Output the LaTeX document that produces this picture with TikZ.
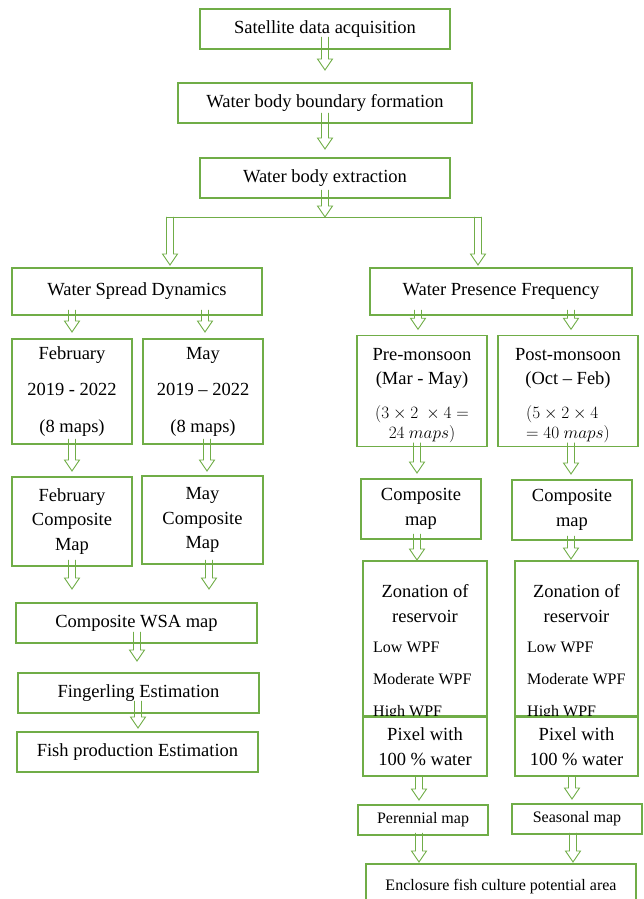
\documentclass[tikz,border=0pt]{standalone}
\usepackage{fontspec}
\setmainfont{Liberation Serif}
\usetikzlibrary{calc}
\definecolor{flowgreen}{RGB}{112,173,71}
\newcommand{\boxfont}{\fontsize{18.5}{24.5}\selectfont}
\newcommand{\itemfont}{\fontsize{16}{20}\selectfont}
\newcommand{\calcfont}{\fontsize{17}{20}\selectfont}
\newcommand{\flowdown}[3]{%
  \draw[flowline] let \p1=(#2), \p2=(#3) in
    (#1pt-3.5pt,\y1) -- (#1pt-3.5pt,\y2+11pt) -- (#1pt-7.5pt,\y2+11pt) -- (#1pt,\y2)
    -- (#1pt+7.5pt,\y2+11pt) -- (#1pt+3.5pt,\y2+11pt) -- (#1pt+3.5pt,\y1);}

\begin{document}
\begin{tikzpicture}[x=1pt, y=1pt, every node/.style={font=\boxfont},
    box/.style={draw=flowgreen, line width=1.2pt, fill=white, align=center, inner sep=2pt, outer sep=0pt},
    flowline/.style={draw=flowgreen, line width=0.9pt, line join=miter}]
    \useasboundingbox (0,0) rectangle (643,899);
    \clip (0,0) rectangle (643,899);
    \node[box, minimum width=250pt, minimum height=40pt] (sat) at (325,870) {Satellite data acquisition};
    \node[box, minimum width=294pt, minimum height=40pt] (bound) at (325,796) {Water body boundary formation};
    \node[box, minimum width=250pt, minimum height=40pt] (extr) at (325,721) {Water body extraction};
    \coordinate (split) at (325,682);
    \coordinate (splitl) at (170,682);
    \coordinate (splitr) at (478,682);
    \node[box, minimum width=250pt, minimum height=47pt] (wsd) at (137,607.5) {Water Spread Dynamics};
    \node[box, minimum width=262pt, minimum height=47pt] (wpf) at (501,607.5) {Water Presence Frequency};
    \node[box, minimum width=120pt, minimum height=105pt] (feb) at (72,507.5) {February\\[12pt]2019 - 2022\\[12pt](8 maps)};
    \node[box, minimum width=120pt, minimum height=105pt] (may) at (203,507.5) {May\\[12pt]2019 -- 2022\\[12pt](8 maps)};
    \node[box, minimum width=120pt, minimum height=89pt] (febc) at (72,377.5) {February\\Composite\\Map};
    \node[box, minimum width=121pt, minimum height=88pt] (mayc) at (202.5,379) {May\\Composite\\Map};
    \node[box, minimum width=241pt, minimum height=40pt] (wsa) at (136.5,276) {Composite WSA map};
    \node[box, minimum width=241pt, minimum height=40pt] (fing) at (138.5,206) {Fingerling Estimation};
    \node[box, minimum width=241pt, minimum height=40pt] (fish) at (137.5,147) {Fish production Estimation};
    \node[box, minimum width=130pt, minimum height=110pt] (pre) at (422,508) {\mbox{}\\[-1.5pt]Pre-monsoon\\(Mar - May)\\[15pt]{\calcfont\begin{tabular}{@{}c@{}}$(3\times 2\ \times 4 =$\\$24\ maps)$\end{tabular}}};
    \node[box, minimum width=140pt, minimum height=110pt] (post) at (568,508) {\mbox{}\\[-1.5pt]Post-monsoon\\(Oct -- Feb)\\[15pt]{\calcfont\begin{tabular}{@{}l@{}}$(5\times 2\times 4$\\$=40\ maps)$\end{tabular}}};
    \node[box, minimum width=120pt, minimum height=60pt] (cml) at (421,390) {Composite\\map};
    \node[box, minimum width=120pt, minimum height=60pt] (cmr) at (572,389) {Composite\\map};
    \node[box, minimum width=124pt, minimum height=155pt] (zonl) at (425,260.5) {};
    \node[box, minimum width=123pt, minimum height=155pt] (zonr) at (576.5,260.5) {};
    \node[align=center] (zonlt) at (425,295.5) {Zonation of\\reservoir};
    \node[align=center] (zonrt) at (576.5,295.5) {Zonation of\\reservoir};
    \node[font=\itemfont, anchor=base west, inner sep=0pt] (lowl) at (373,246) {Low WPF};
    \node[font=\itemfont, anchor=base west, inner sep=0pt] (modl) at (373,214) {Moderate WPF};
    \node[font=\itemfont, anchor=base west, inner sep=0pt] (highl) at (373,182) {High WPF};
    \node[font=\itemfont, anchor=base west, inner sep=0pt] (lowr) at (527,246) {Low WPF};
    \node[font=\itemfont, anchor=base west, inner sep=0pt] (modr) at (527,214) {Moderate WPF};
    \node[font=\itemfont, anchor=base west, inner sep=0pt] (highr) at (527,182) {High WPF};
    \node[box, minimum width=124pt, minimum height=59pt] (pixl) at (425,152.5) {Pixel with\\100 \% water};
    \node[box, minimum width=123pt, minimum height=59pt] (pixr) at (576.5,152.5) {Pixel with\\100 \% water};
    \node[box, font=\itemfont, minimum width=130pt, minimum height=30pt] (pere) at (423,79) {Perennial map};
    \node[box, font=\itemfont, minimum width=130pt, minimum height=30pt] (seas) at (577,80) {Seasonal map};
    \node[box, font=\itemfont, minimum width=270pt, minimum height=46pt] (encl) at (501,12) {Enclosure fish culture potential area};
    \flowdown{325}{$(sat.south)+(0,12)$}{$(bound.north)+(0,13)$}
    \flowdown{325}{$(bound.south)+(0,10)$}{$(extr.north)+(0,9)$}
    \flowdown{325}{$(extr.south)+(0,8)$}{split}
    \draw[flowline] ([xshift=-3.5pt]splitl) -- ([xshift=3.5pt]splitr);
    \flowdown{170}{splitl}{$(wsd.north)+(0,3)$}
    \flowdown{478}{splitr}{$(wpf.north)+(0,3)$}
    \flowdown{72}{$(wsd.south)+(0,5)$}{$(feb.north)+(0,7)$}
    \flowdown{205}{$(wsd.south)+(0,5)$}{$(may.north)+(0,7)$}
    \flowdown{72}{$(feb.south)+(0,5)$}{$(febc.north)+(0,6)$}
    \flowdown{207}{$(may.south)+(0,5)$}{$(mayc.north)+(0,5)$}
    \flowdown{72}{$(febc.south)+(0,6)$}{$(wsa.north)+(0,14)$}
    \flowdown{209}{$(mayc.south)+(0,4)$}{$(wsa.north)+(0,14)$}
    \flowdown{137}{$(wsa.south)+(0,11)$}{$(fing.north)+(0,12)$}
    \flowdown{138}{$(fing.south)+(0,12)$}{$(fish.north)+(0,4)$}
    \flowdown{418}{$(wpf.south)+(0,5)$}{$(pre.north)+(0,6)$}
    \flowdown{571}{$(wpf.south)+(0,5)$}{$(post.north)+(0,6)$}
    \flowdown{417}{$(pre.south)+(0,4)$}{$(cml.north)+(0,6)$}
    \flowdown{571}{$(post.south)+(0,4)$}{$(cmr.north)+(0,6)$}
    \flowdown{417}{$(cml.south)+(0,5)$}{$(zonl.north)+(0,1)$}
    \flowdown{571}{$(cmr.south)+(0,4)$}{$(zonr.north)+(0,2)$}
    \flowdown{419}{pixl.south}{$(pere.north)+(0,5)$}
    \flowdown{572}{pixr.south}{$(seas.north)+(0,5)$}
    \flowdown{419}{$(pere.south)+(0,2)$}{$(encl.north)+(0,2)$}
    \flowdown{573}{$(seas.south)+(0,1)$}{$(encl.north)+(0,2)$}
\end{tikzpicture}
\end{document}
